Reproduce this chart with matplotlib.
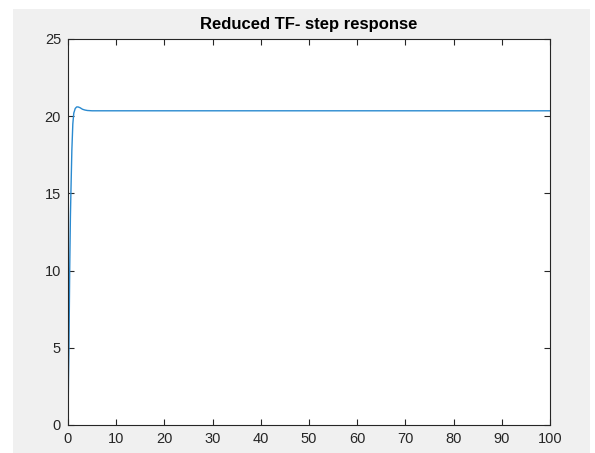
import numpy as np
import matplotlib
matplotlib.use("Agg")
import matplotlib.pyplot as plt
from matplotlib.patches import Rectangle

# step response
t = [0, 0.1, 0.2, 0.35, 0.5, 0.6, 0.8, 1.0, 1.2, 1.5, 1.8, 2.1, 2.5, 3.0, 3.5, 4.0, 5.0, 6.0, 100]
y = [0, 3.0, 5.0, 10.0, 13.5, 15.0, 17.8, 19.5, 20.2, 20.5, 20.6, 20.6, 20.55, 20.45, 20.4, 20.37, 20.35, 20.35, 20.35]

xticks = np.arange(0, 101, 10)
yticks = np.arange(0, 26, 5)

plt.rcParams['font.family'] = ['Liberation Sans', 'DejaVu Sans']

fig = plt.figure(figsize=(5.95, 4.53), dpi=100)
fig.patch.set_facecolor('white')

# grey matlab figure background
fig.patches.append(Rectangle((13/595, 0), 577/595, 444/453, transform=fig.transFigure,
                             facecolor='#f0f0f0', edgecolor='none', zorder=-1))

ax = fig.add_axes([68/595, 1 - 425/453, 482/595, 386/453])
ax.set_facecolor('white')

ax.plot(t, y, color='#2a8ad0', linewidth=1.0)

ax.set_xlim(0, 100)
ax.set_ylim(0, 25)
ax.set_xticks(xticks)
ax.set_yticks(yticks)

for s in ax.spines.values():
    s.set_color('#262626')
    s.set_linewidth(0.8)

ax.tick_params(direction='in', top=True, right=True, length=4, width=0.8,
               colors='#262626', labelsize=10.5, pad=5)

ax.set_title('Reduced TF- step response', fontsize=12, fontweight='bold', pad=7)

fig.savefig('out.png', dpi=100)
